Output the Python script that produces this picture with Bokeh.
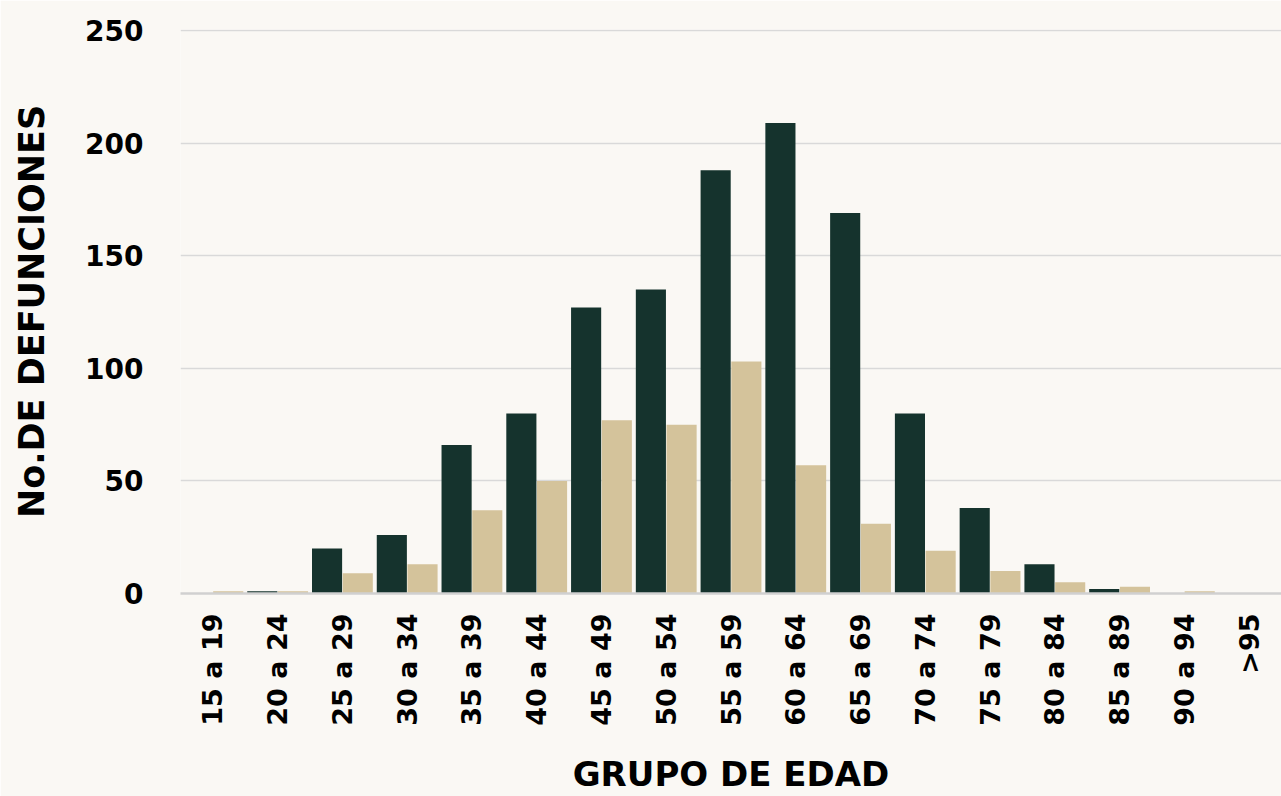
import math
from bokeh.plotting import figure
from bokeh.models import Range1d, FactorRange, ColumnDataSource, FixedTicker
from bokeh.transform import dodge
from bokeh.embed import file_html
from bokeh.resources import INLINE

grupos = ["15 a 19", "20 a 24", "25 a 29", "30 a 34", "35 a 39", "40 a 44",
          "45 a 49", "50 a 54", "55 a 59", "60 a 64", "65 a 69", "70 a 74",
          "75 a 79", "80 a 84", "85 a 89", "90 a 94", ">95"]
serie_oscura = [0, 1, 20, 26, 66, 80, 127, 135, 188, 209, 169, 80, 38, 13, 2, 0, 0]
serie_clara = [1, 1, 9, 13, 37, 50, 77, 75, 103, 57, 31, 19, 10, 5, 3, 1, 0]
y_ticks = [0, 50, 100, 150, 200, 250]

DARK = "#15332d"
TAN = "#d4c39b"
BG = "#faf8f4"
FONT = "DejaVu Sans"

src = ColumnDataSource(dict(g=grupos, a=serie_oscura, b=serie_clara))

p = figure(x_range=FactorRange(*grupos, range_padding=0), y_range=Range1d(0, 250.5),
           width=1281, height=796, output_backend="svg", toolbar_location=None,
           min_border_left=180, min_border_right=0, min_border_top=29, min_border_bottom=0)

p.vbar(x=dodge("g", -0.237, range=p.x_range), top="a", width=0.465, source=src,
       fill_color=DARK, line_color=None)
p.vbar(x=dodge("g", 0.237, range=p.x_range), top="b", width=0.465, source=src,
       fill_color=TAN, line_color=None)

p.background_fill_color = BG
p.border_fill_color = BG
p.outline_line_color = None

p.xgrid.grid_line_color = None
p.ygrid.grid_line_color = "#d9d9d9"
p.ygrid.grid_line_width = 1.5
p.yaxis.ticker = FixedTicker(ticks=y_ticks)

p.yaxis.axis_line_color = None
p.yaxis.major_tick_line_color = None
p.yaxis.minor_tick_line_color = None
p.yaxis.major_label_text_font = FONT
p.yaxis.major_label_text_font_style = "bold"
p.yaxis.major_label_text_font_size = "28px"
p.yaxis.major_label_text_color = "#000000"
p.yaxis.major_label_standoff = 31
p.yaxis.axis_label = "No.DE DEFUNCIONES"
p.yaxis.axis_label_text_font = FONT
p.yaxis.axis_label_text_font_style = "bold"
p.yaxis.axis_label_text_font_size = "35px"
p.yaxis.axis_label_text_color = "#000000"
p.yaxis.axis_label_standoff = 30

p.xaxis.axis_line_color = "#d0d0d0"
p.xaxis.axis_line_width = 2.5
p.xaxis.major_tick_line_color = None
p.xaxis.minor_tick_line_color = None
p.xaxis.major_label_orientation = math.pi / 2
p.xaxis.major_label_text_font = FONT
p.xaxis.major_label_text_font_style = "bold"
p.xaxis.major_label_text_font_size = "27px"
p.xaxis.major_label_text_color = "#000000"
p.xaxis.major_label_standoff = 14
p.xaxis.axis_label = "GRUPO DE EDAD"
p.xaxis.axis_label_text_font = FONT
p.xaxis.axis_label_text_font_style = "bold"
p.xaxis.axis_label_text_font_size = "34px"
p.xaxis.axis_label_text_color = "#000000"
p.xaxis.axis_label_standoff = 25

open("out.html", "w").write(file_html(p, INLINE))
